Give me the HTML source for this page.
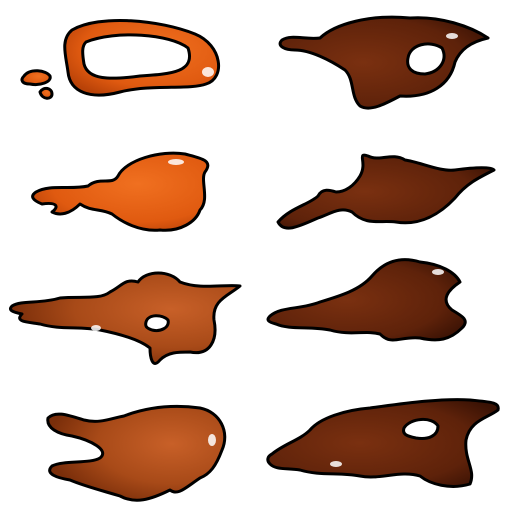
<!DOCTYPE html>
<html><head><meta charset="utf-8"><style>
html,body{margin:0;padding:0;background:#fff;width:512px;height:512px;overflow:hidden}
svg{display:block}
</style></head><body>
<svg width="512" height="512" viewBox="0 0 512 512">
<defs>
<radialGradient id="og" cx="0.6" cy="0.4" r="0.7"><stop offset="0" stop-color="#f07020"/><stop offset="0.7" stop-color="#e05a10"/><stop offset="1" stop-color="#b84208"/></radialGradient>
<radialGradient id="og2" cx="0.7" cy="0.4" r="0.7"><stop offset="0" stop-color="#c86028"/><stop offset="0.6" stop-color="#a84a18"/><stop offset="1" stop-color="#7a2e0a"/></radialGradient>
<radialGradient id="bg" cx="0.4" cy="0.5" r="0.7"><stop offset="0" stop-color="#7a3010"/><stop offset="0.7" stop-color="#5e220a"/><stop offset="1" stop-color="#3a1204"/></radialGradient>
</defs>
<g stroke="#000" stroke-width="3" stroke-linejoin="round" fill-rule="evenodd">
<path fill="url(#og)" d="M72,30 C100,14 160,20 195,34 C222,45 226,78 206,84 C190,90 150,84 120,92 C90,100 70,92 68,72 C66,56 60,40 72,30 Z M86,42 C116,30 170,34 188,48 C196,72 172,74 140,76 C110,80 88,80 84,64 C82,52 82,46 86,42 Z"/>
<path fill="url(#og)" d="M24,76 C30,68 46,70 50,76 C52,82 40,86 30,84 C22,84 20,80 24,76 Z"/>
<path fill="url(#og)" d="M40,92 C44,86 52,88 52,94 C52,100 42,100 40,92 Z"/>
<path fill="url(#bg)" d="M282,40 C292,34 305,40 320,38 C335,24 370,14 410,18 C440,16 470,26 488,38 C470,42 460,50 455,62 C450,85 430,98 400,96 C385,104 370,112 360,106 C350,96 355,80 345,70 C330,60 310,50 295,50 C285,50 276,46 282,40 Z M408,58 C410,44 430,40 442,48 C448,60 440,72 425,74 C412,74 406,68 408,58 Z"/>
<path fill="url(#og)" d="M36,192 C50,184 70,190 88,186 C100,176 112,186 118,176 C126,160 160,150 185,154 C200,158 214,160 205,172 C200,180 210,200 200,210 C196,222 180,232 160,230 C140,232 122,222 112,214 C100,208 92,212 80,204 C70,214 60,216 52,212 C60,206 56,202 42,204 C32,200 30,196 36,192 Z"/>
<path fill="url(#bg)" d="M278,222 C290,208 310,204 318,196 C322,188 330,190 336,192 C345,192 354,186 360,176 C368,162 356,152 368,156 C380,162 392,152 405,160 C420,162 440,172 455,170 C470,168 490,166 494,170 C478,178 466,184 455,198 C440,214 420,226 396,222 C380,220 366,226 352,212 C340,206 330,214 318,218 C300,226 284,234 278,222 Z"/>
<path fill="url(#og2)" d="M12,306 C22,300 40,304 60,298 C80,296 100,300 110,292 C122,286 125,278 138,282 C146,270 170,270 180,282 C200,290 225,284 240,286 C228,296 212,300 214,320 C218,340 210,356 190,352 C178,352 168,352 160,360 C152,370 150,356 150,348 C140,340 120,334 100,330 C80,326 60,330 40,324 C28,322 14,322 22,314 C12,312 8,310 12,306 Z M146,322 C148,314 162,314 168,320 C170,328 160,332 152,330 C146,328 145,326 146,322 Z"/>
<path fill="url(#bg)" d="M270,316 C282,306 300,310 320,302 C340,296 360,290 372,276 C384,262 400,256 420,262 C440,264 455,272 460,282 C448,290 440,300 452,310 C462,316 470,320 462,328 C450,340 438,342 420,338 C400,336 392,346 380,334 C366,330 350,336 330,330 C310,326 290,330 276,324 C268,322 266,320 270,316 Z"/>
<path fill="url(#og2)" d="M48,418 C56,410 70,416 84,420 C100,424 112,418 124,416 C145,408 170,404 200,408 C220,412 230,432 222,450 C216,466 210,474 200,478 C185,488 178,496 170,490 C150,500 135,504 120,496 C100,490 84,486 70,480 C58,478 44,474 52,466 C64,460 90,464 100,458 C110,450 90,440 72,436 C58,434 46,428 48,418 Z"/>
<path fill="url(#bg)" d="M272,454 C284,444 300,440 310,430 C320,418 345,410 370,408 C400,404 440,398 470,400 C490,402 500,402 498,410 C488,418 470,420 466,440 C464,460 476,470 470,484 C450,490 430,484 420,476 C400,470 380,480 360,476 C340,472 320,476 300,470 C286,468 276,470 270,464 C266,460 268,456 272,454 Z M404,428 C410,418 432,416 438,426 C438,436 428,440 416,438 C406,436 402,434 404,428 Z"/>
</g>
<g fill="#fff" opacity="0.85">
<ellipse cx="208" cy="72" rx="6" ry="5"/>
<ellipse cx="452" cy="36" rx="6" ry="3"/>
<ellipse cx="176" cy="162" rx="8" ry="3"/>
<ellipse cx="96" cy="328" rx="5" ry="3"/>
<ellipse cx="438" cy="272" rx="6" ry="3"/>
<ellipse cx="212" cy="440" rx="4" ry="6"/>
<ellipse cx="336" cy="464" rx="6" ry="3"/>
</g>
</svg>
</body></html>
